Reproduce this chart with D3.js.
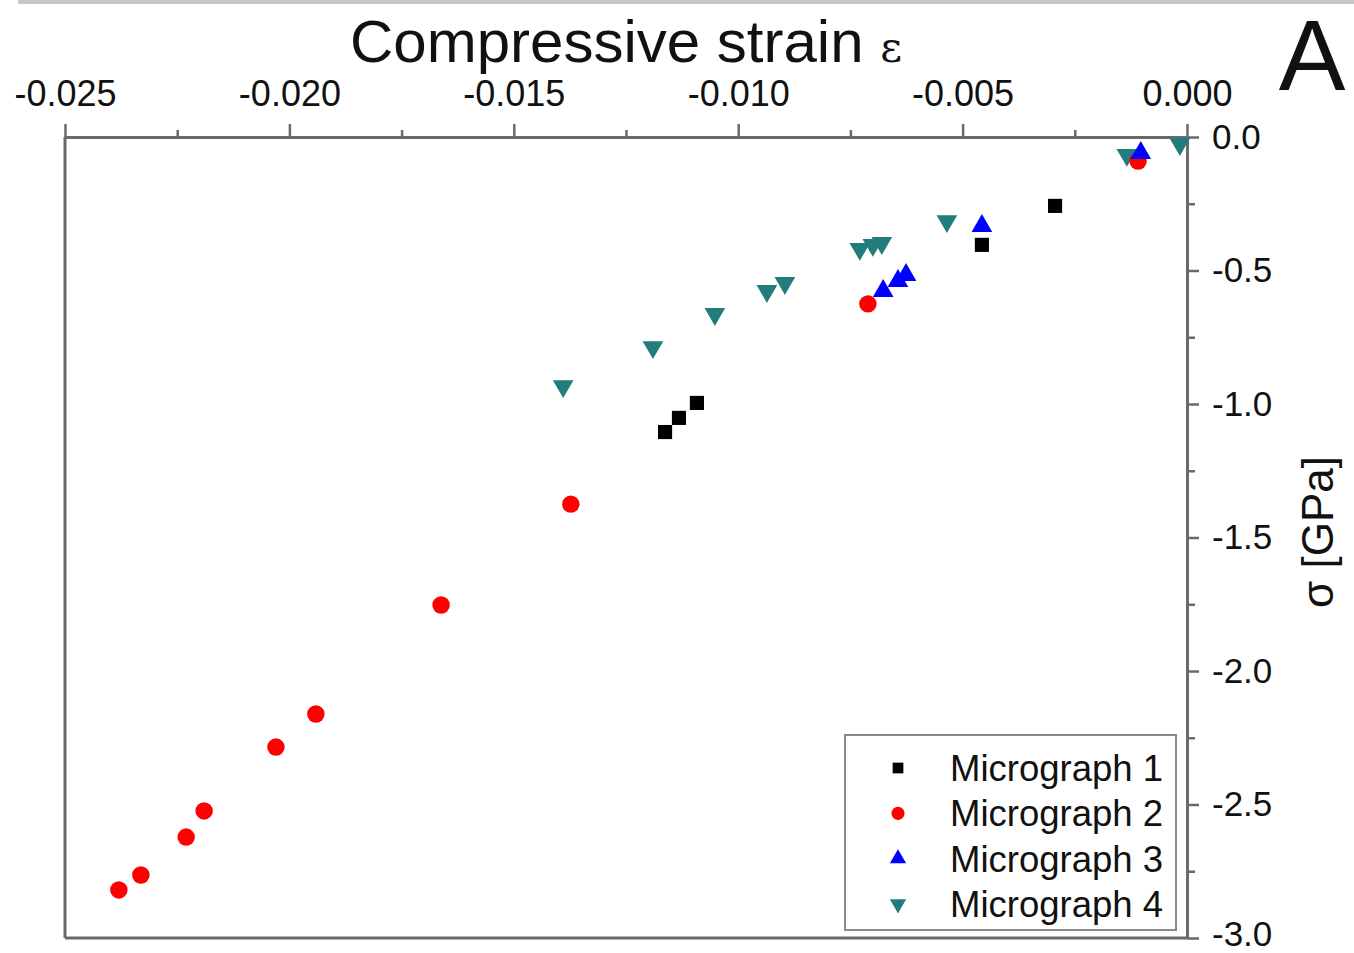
<!DOCTYPE html>
<html>
<head>
<meta charset="utf-8">
<script src="https://cdn.jsdelivr.net/npm/d3@7"></script>
<style>
  body { margin: 0; background: #fff; }
  svg { display: block; }
  text { font-family: "Liberation Sans", Arial, sans-serif; fill: #111; }
</style>
</head>
<body>
<svg id="chart" width="1354" height="953"></svg>
<script>
// ---- data ----
const xTickValues = [-0.025, -0.020, -0.015, -0.010, -0.005, 0.000];
const xTickLabels = ["-0.025", "-0.020", "-0.015", "-0.010", "-0.005", "0.000"];
const xMinorTicks = [-0.0225, -0.0175, -0.0125, -0.0075, -0.0025];
const yTickValues = [0, -0.5, -1.0, -1.5, -2.0, -2.5, -3.0];
const yTickLabels = ["0.0", "-0.5", "-1.0", "-1.5", "-2.0", "-2.5", "-3.0"];
const yMinorTicks = [-0.25, -0.75, -1.25, -1.75, -2.25, -2.75];

const seriesNames = ["Micrograph 1", "Micrograph 2", "Micrograph 3", "Micrograph 4"];
const seriesColors = ["#000000", "#ff0000", "#0000ff", "#227c7c"];

const m1Strain = [-0.00294, -0.00457, -0.01092, -0.01132, -0.01163];
const m1Stress = [-0.258, -0.404, -0.996, -1.052, -1.105];

const m2Strain = [-0.00109, -0.00711, -0.01373, -0.01662, -0.01941, -0.02030, -0.02190, -0.02230, -0.02331, -0.02380];
const m2Stress = [-0.090, -0.625, -1.375, -1.753, -2.161, -2.285, -2.524, -2.622, -2.764, -2.820];

const m3Strain = [-0.00103, -0.00457, -0.00677, -0.00644, -0.00626];
const m3Stress = [-0.060, -0.333, -0.577, -0.539, -0.517];

const m4Strain = [-0.00016, -0.00134, -0.00535, -0.00680, -0.00700, -0.00729, -0.00896, -0.00936, -0.01052, -0.01190, -0.01390];
const m4Stress = [-0.026, -0.067, -0.315, -0.397, -0.404, -0.419, -0.547, -0.577, -0.663, -0.787, -0.933];

const xTitle = "Compressive strain ";
const xTitleSymbol = "ε";
const yTitle = "σ [GPa]";
const panelLabel = "A";

// ---- layout ----
const svg = d3.select("#chart");
const L = 65, R = 1187, T = 137, B = 938;
const x = d3.scaleLinear().domain([-0.025, 0]).range([L, R]);
const y = d3.scaleLinear().domain([0, -3]).range([T, B]);
const axisColor = "#6a6a6a";

// top gray strip
svg.append("rect").attr("x", 18).attr("y", 0).attr("width", 1336).attr("height", 4).attr("fill", "#c6c6c6");

// frame: left and bottom lines
svg.append("line").attr("x1", L).attr("x2", L).attr("y1", T).attr("y2", B)
  .attr("stroke", axisColor).attr("stroke-width", 3);
svg.append("line").attr("x1", L).attr("x2", R).attr("y1", B).attr("y2", B)
  .attr("stroke", axisColor).attr("stroke-width", 3);

// top x axis
const xAxis = d3.axisTop(x).tickValues(xTickValues)
  .tickFormat((d, i) => xTickLabels[i]).tickSize(13).tickSizeOuter(0).tickPadding(18);
const gx = svg.append("g").attr("transform", `translate(0,${T})`).call(xAxis);
const gxMinor = svg.append("g").attr("transform", `translate(0,${T})`)
  .call(d3.axisTop(x).tickValues(xMinorTicks).tickFormat("").tickSize(7).tickSizeOuter(0));
gxMinor.select(".domain").remove();

// right y axis
const yAxis = d3.axisRight(y).tickValues(yTickValues)
  .tickFormat((d, i) => yTickLabels[i]).tickSize(12).tickSizeOuter(0).tickPadding(13);
const gy = svg.append("g").attr("transform", `translate(${R},0)`).call(yAxis);
const gyMinor = svg.append("g").attr("transform", `translate(${R},0)`)
  .call(d3.axisRight(y).tickValues(yMinorTicks).tickFormat("").tickSize(8).tickSizeOuter(0));
gyMinor.select(".domain").remove();

[gx, gy, gxMinor, gyMinor].forEach(g => {
  g.selectAll(".domain").attr("stroke", axisColor).attr("stroke-width", 3);
  g.selectAll(".tick line").attr("stroke", axisColor).attr("stroke-width", 2.5);
});
gx.selectAll(".tick text").attr("font-size", 36).attr("fill", "#111")
  .attr("font-family", "Liberation Sans, Arial, sans-serif");
gy.selectAll(".tick text").attr("font-size", 35).attr("fill", "#111")
  .attr("font-family", "Liberation Sans, Arial, sans-serif")
  .attr("dy", (d, i) => i === yTickValues.length - 1 ? "0.2em" : "0.32em");

// titles
const t = svg.append("text").attr("x", 626).attr("y", 62).attr("text-anchor", "middle")
  .attr("font-size", 60);
t.append("tspan").text(xTitle);
t.append("tspan").attr("font-family", "DejaVu Serif, serif").attr("font-size", 42).text(xTitleSymbol);

svg.append("text").attr("transform", "translate(1333,532) rotate(-90)")
  .attr("text-anchor", "middle").attr("font-size", 44).text(yTitle);

svg.append("text").attr("x", 1312).attr("y", 90).attr("text-anchor", "middle")
  .attr("font-size", 100).text(panelLabel);

// ---- symbols ----
const symbolDefs = [
  { type: d3.symbolSquare, size: 200, rot: 0 },
  { type: d3.symbolCircle, size: 240, rot: 0 },
  { type: d3.symbolTriangle, size: 185, rot: 0 },
  { type: d3.symbolTriangle, size: 185, rot: 180 }
];
const seriesX = [m1Strain, m2Strain, m3Strain, m4Strain];
const seriesY = [m1Stress, m2Stress, m3Stress, m4Stress];

// draw order: 4, 1, 2, 3 so blue sits over red
[3, 0, 1, 2].forEach(si => {
  const pts = seriesX[si].map((v, i) => [v, seriesY[si][i]]);
  const sd = symbolDefs[si];
  svg.append("g").selectAll("path").data(pts).enter().append("path")
    .attr("d", d3.symbol().type(sd.type).size(sd.size))
    .attr("transform", d => `translate(${x(d[0])},${y(d[1])}) rotate(${sd.rot})`)
    .attr("fill", seriesColors[si]);
});

// ---- legend ----
const lg = svg.append("g");
lg.append("rect").attr("x", 845).attr("y", 735).attr("width", 331).attr("height", 195)
  .attr("fill", "#fff").attr("stroke", "#8a8a8a").attr("stroke-width", 2);
const legendY = d3.scalePoint().domain(seriesNames).range([768, 904]);
const legendSymbols = [
  { type: d3.symbolSquare, size: 115, rot: 0 },
  { type: d3.symbolCircle, size: 135, rot: 0 },
  { type: d3.symbolTriangle, size: 115, rot: 0 },
  { type: d3.symbolTriangle, size: 115, rot: 180 }
];
seriesNames.forEach((name, i) => {
  const yy = legendY(name);
  lg.append("path")
    .attr("d", d3.symbol().type(legendSymbols[i].type).size(legendSymbols[i].size))
    .attr("transform", `translate(898,${yy}) rotate(${legendSymbols[i].rot})`)
    .attr("fill", seriesColors[i]);
  lg.append("text").attr("x", 950).attr("y", yy).attr("dy", "0.36em")
    .attr("font-size", 36.5).text(name);
});
</script>
</body>
</html>
